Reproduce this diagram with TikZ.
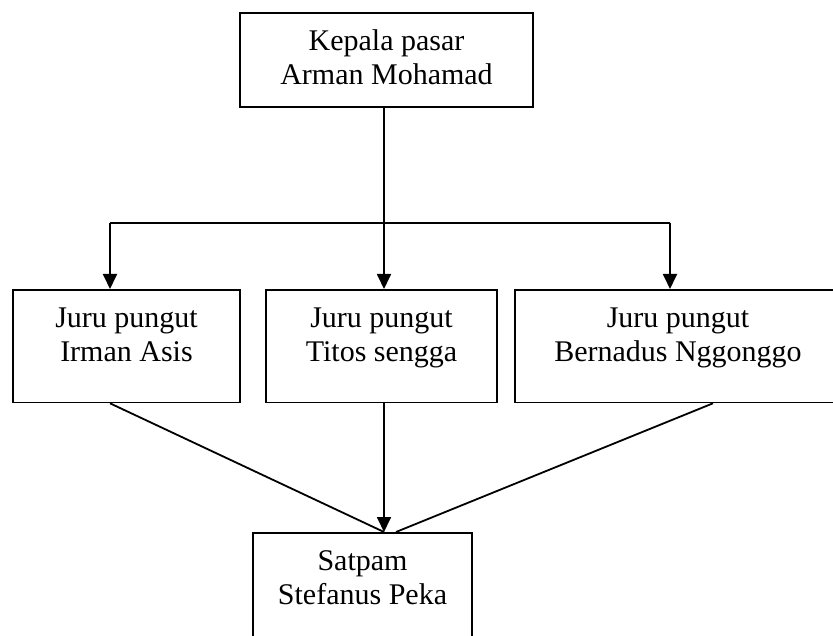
\documentclass[tikz,border=0pt]{standalone}
\usepackage{fontspec}
\setmainfont{Liberation Serif}
\usetikzlibrary{arrows.meta,positioning,calc}
\tikzset{
  orgbox/.style={draw, line width=1.8pt, align=center, anchor=north,
    font=\fontsize{30}{34}\selectfont, text height=71.5pt,
    inner xsep=0pt, inner ysep=0pt},
  orgline/.style={line width=1.8pt},
  orgarrow/.style={line width=1.8pt, -{Triangle[width=14pt,length=15pt]}}
}

\begin{document}
\begin{tikzpicture}[x=1pt,y=-1pt]
	\useasboundingbox (0,0) rectangle (833,636);
	\clip (0,0) rectangle (833,636);

	% Kepala pasar
	\node[orgbox, minimum width=293pt, text depth=23pt] (kepala) at (386.5,12) {Kepala pasar\\Arman Mohamad};

	% Juru pungut
	\node[orgbox, minimum width=227pt, text depth=41pt] (irman) at (126.5,289) {Juru pungut\\Irman Asis};
	\node[orgbox, minimum width=231pt, text depth=41pt] (titos) at (381.5,289) {Juru pungut\\Titos sengga};
	\node[orgbox, minimum width=326pt, text depth=41pt] (bernadus) at (678,289) {Juru pungut\\Bernadus Nggonggo};

	% Satpam
	\node[orgbox, minimum width=219pt, text depth=90pt] (satpam) at (362.5,532) {Satpam\\Stefanus Peka};

	% branch points
	\coordinate (hub) at (384,223);
	\coordinate (armL) at (110,223);
	\coordinate (armR) at (670,223);

	% top-down arrows
	\draw[orgline] (kepala.south -| hub) -- (hub);
	\draw[orgline] (armL) -- (armR);
	\draw[orgarrow] (armL) -- (armL |- irman.north);
	\draw[orgarrow] (hub) -- (hub |- titos.north);
	\draw[orgarrow] (armR) -- (armR |- bernadus.north);

	% lines to Satpam
	\draw[orgline] (irman.south -| armL) -- (satpam.north -| hub);
	\draw[orgarrow] (titos.south -| hub) -- (satpam.north -| hub);
	\draw[orgline] ([xshift=35pt]bernadus.south) -- ([xshift=12pt]satpam.north -| hub);
\end{tikzpicture}
\end{document}
